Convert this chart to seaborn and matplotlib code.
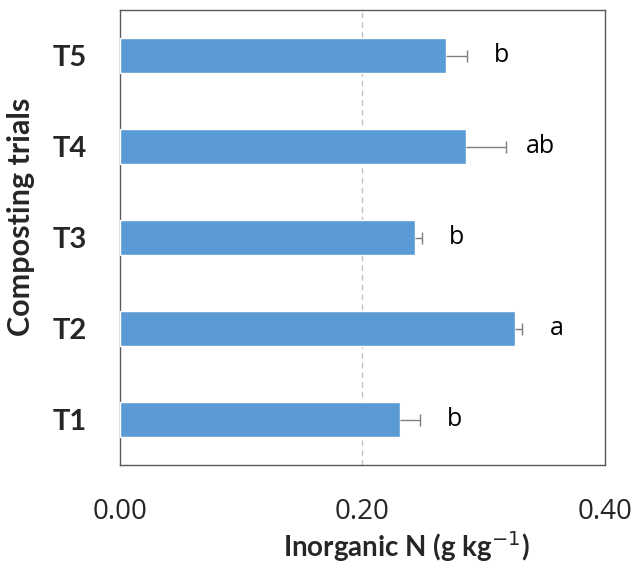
import matplotlib
matplotlib.use("Agg")
import matplotlib.pyplot as plt
import seaborn as sns
import pandas as pd

# Composting trials and inorganic N content (g/kg) with standard error
trials = ["T5", "T4", "T3", "T2", "T1"]
inorganic_n = [0.269, 0.285, 0.243, 0.326, 0.231]
std_err = [0.017, 0.033, 0.006, 0.0055, 0.016]
letters = ["b", "ab", "b", "a", "b"]
x_ticks = [0.0, 0.2, 0.4]
x_tick_labels = ["0.00", "0.20", "0.40"]

df = pd.DataFrame({"trial": trials, "n": inorganic_n, "se": std_err, "letter": letters})

sns.set_theme(style="white")
plt.rcParams["font.family"] = ["Lato", "DejaVu Sans"]

fig = plt.figure(figsize=(6.41, 5.70), dpi=100)
ax = fig.add_axes([0.187, 0.184, 0.757, 0.798])

bar_color = "#5B9BD5"
sns.barplot(data=df, x="n", y="trial", order=trials, color=bar_color,
            width=0.39, saturation=1, errorbar=None, ax=ax, zorder=3)

# one-sided (plus) error bars with a cap only at the outer end
ypos = list(range(len(trials)))
err_color = "#7F7F7F"
ax.errorbar(df["n"], ypos, xerr=[[0] * len(trials), df["se"]], fmt="none",
            ecolor=err_color, elinewidth=1.0, capsize=0, zorder=4)
ax.scatter(df["n"] + df["se"], ypos, marker="|", s=70, color=err_color,
           linewidths=1.0, zorder=4)

for i, row in df.iterrows():
    ax.annotate(row["letter"], xy=(row["n"] + row["se"], i), xytext=(25, 0),
                textcoords="offset points", ha="center", va="center",
                fontsize=18, color="black", family=["Open Sans", "DejaVu Sans"])

ax.set_xlim(0, 0.4)
ax.set_ylim(len(trials) - 0.5, -0.5)
ax.set_xticks(x_ticks)
ax.set_xticklabels(x_tick_labels, fontsize=20, family=["Open Sans", "DejaVu Sans"])
ax.tick_params(axis="x", length=0, pad=24)
ax.tick_params(axis="y", length=0, pad=24)
for lbl in ax.get_yticklabels():
    lbl.set_fontsize(21)
    lbl.set_fontweight("bold")

ax.axvline(0.2, color="#BFBFBF", linestyle=(0, (4, 3)), linewidth=1.0, zorder=1)

ax.set_xlabel("Inorganic N (g kg$^{-1}$)", fontsize=20, fontweight="bold", labelpad=2)
ax.set_ylabel("Composting trials", fontsize=22, fontweight="bold", labelpad=12)
ax.xaxis.label.set_x(0.59)
ax.yaxis.label.set_y(0.545)

for sp in ax.spines.values():
    sp.set_color("#595959")
    sp.set_linewidth(1.0)

fig.savefig("out.png", dpi=100)
